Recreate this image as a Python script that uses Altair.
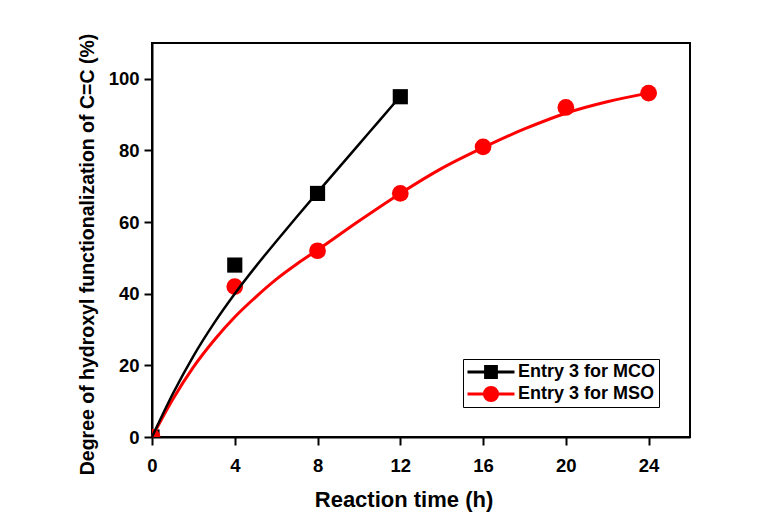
import altair as alt
import pandas as pd

# ---- data ----
names = ["Entry 3 for MCO", "Entry 3 for MSO"]

mco_t = [0, 4, 8, 12]
mco_y = [0, 48, 68, 95]

mso_t = [0, 4, 8, 12, 16, 20, 24]
mso_y = [0, 42, 52, 68, 81, 92, 96]

# fitted curves
mco_fit_t = [0, 1, 2, 3, 4, 5, 6, 7, 8, 9, 10, 11, 12]
mco_fit_y = [0, 12, 22.6, 31.8, 40, 47.5, 54.6, 61.5, 68.3, 75, 81.7, 88.4, 95.1]

mso_fit_t = [0, 1, 2, 3, 4, 5, 6, 7, 8, 10, 12, 14, 16, 18, 20, 22, 24]
mso_fit_y = [0, 10.5, 19.5, 27, 33.5, 39, 44, 48.3, 52.2, 60.3, 68, 75, 80.8, 86, 90.4, 93.6, 96]

x_ticks = [0, 4, 8, 12, 16, 20, 24]
y_ticks = [0, 20, 40, 60, 80, 100]

colors = ["black", "red"]

pts = pd.DataFrame(
    {"t": mco_t + mso_t, "y": mco_y + mso_y,
     "series": [names[0]] * len(mco_t) + [names[1]] * len(mso_t)}
)
fit = pd.DataFrame(
    {"t": mco_fit_t + mso_fit_t, "y": mco_fit_y + mso_fit_y,
     "series": [names[0]] * len(mco_fit_t) + [names[1]] * len(mso_fit_t)}
)

FONT = "Liberation Sans"

xscale = alt.Scale(domain=[0, 26], nice=False, zero=False)
yscale = alt.Scale(domain=[0, 110], nice=False)

xaxis = alt.Axis(
    values=x_ticks, grid=False, labelFlush=False,
    domainColor="black", domainWidth=2, tickColor="black", tickWidth=2, tickSize=8,
    labelFont=FONT, labelFontSize=18.5, labelFontWeight="bold", labelColor="black",
    labelPadding=11,
    title="Reaction time (h)", titleFont=FONT, titleFontSize=22, titleFontWeight="bold",
    titleColor="black", titleX=251.5, titleY=69, titleBaseline="alphabetic", titleAlign="center",
)
yaxis = alt.Axis(
    values=y_ticks, grid=False, labelFlush=False,
    domainColor="black", domainWidth=2, tickColor="black", tickWidth=2, tickSize=8,
    labelFont=FONT, labelFontSize=18.5, labelFontWeight="bold", labelColor="black",
    labelPadding=5,
    title="Degree of hydroxyl functionalization of C=C (%)", titleFont=FONT,
    titleFontSize=19.5, titleFontWeight="bold", titleColor="black",
    titleAngle=270, titleX=-58.7, titleY=211, titleBaseline="alphabetic", titleAlign="center",
)

X = alt.X("t:Q", scale=xscale, axis=xaxis)
Y = alt.Y("y:Q", scale=yscale, axis=yaxis)

def line_layer(name, color, width):
    return alt.Chart(fit).transform_filter(alt.datum.series == name).mark_line(
        color=color, strokeWidth=width, interpolate="monotone"
    ).encode(x=X, y=Y)

def point_layer(name, color, shape, size):
    return alt.Chart(pts).transform_filter(alt.datum.series == name).mark_point(
        filled=True, color=color, shape=shape, size=size, opacity=1, clip=True
    ).encode(x=X, y=Y)

path_sq = "M-1,0H1M-0.23,-0.23H0.23V0.23H-0.23Z"
path_ci = "M-1,0H1M0.28,0A0.28,0.28 0 1,1 -0.28,0A0.28,0.28 0 1,1 0.28,0Z"

leg = alt.Legend(
    title=None, orient="none", legendX=311, legendY=316, padding=3,
    strokeColor="black", labelFont=FONT, labelFontSize=18, labelFontWeight="bold",
    labelColor="black", labelOffset=2, symbolSize=2209, symbolStrokeWidth=3,
    symbolOpacity=1, clipHeight=20, rowPadding=2, labelLimit=300,
)

legend_layer = alt.Chart(pts).transform_filter("false").mark_point(
    filled=True, size=2209, strokeWidth=3, opacity=1
).encode(
    x=X, y=Y,
    shape=alt.Shape("series:N", scale=alt.Scale(domain=names, range=[path_sq, path_ci]), legend=leg),
    fill=alt.Fill("series:N", scale=alt.Scale(domain=names, range=colors), legend=leg),
    stroke=alt.Stroke("series:N", scale=alt.Scale(domain=names, range=colors), legend=leg),
)

chart = alt.layer(
    point_layer(names[0], "black", "square", 230),
    line_layer(names[1], "red", 3),
    point_layer(names[1], "red", "circle", 280),
    line_layer(names[0], "black", 2.5),
    legend_layer,
).properties(
    width=538, height=394,
    background="white",
    padding={"left": 152, "top": 43, "right": 80, "bottom": 95},
    autosize=alt.AutoSizeParams(type="none"),
).configure_view(
    stroke="black", strokeWidth=2
)

chart.save("out.html", embed_options={"renderer": "svg", "actions": False})
